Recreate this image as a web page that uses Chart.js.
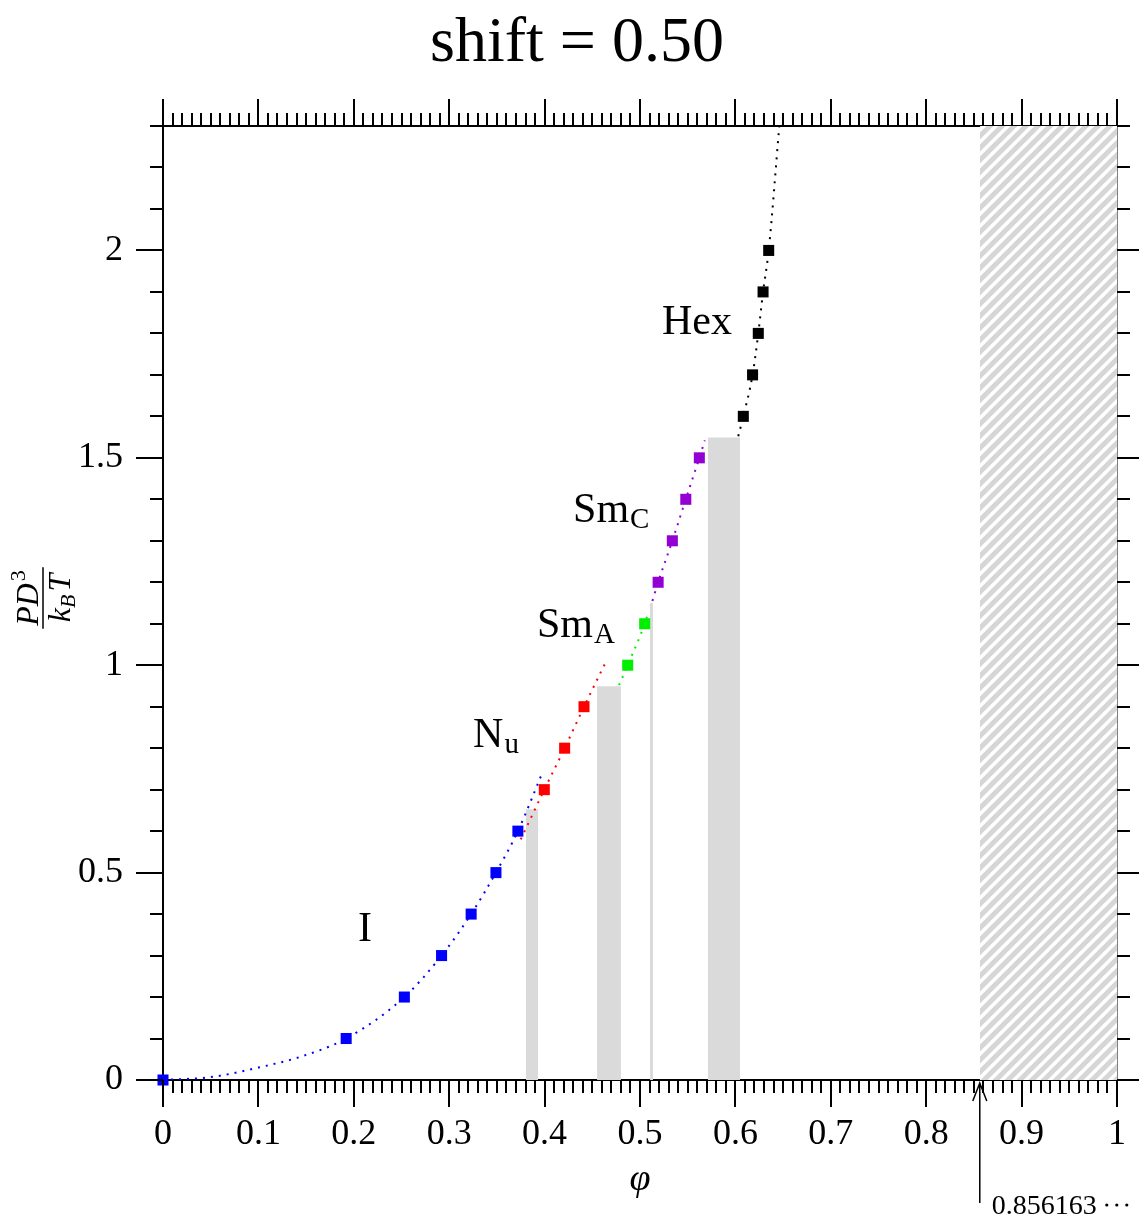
<!DOCTYPE html>
<html lang="en">
<head>
  <meta charset="UTF-8" />
  <title>shift=0.50</title>
  <style>
    html, body { margin: 0; padding: 0; background: #fff; }
    #caixa { width: 1139px; height: 1222px; }
  </style>
  <script src="https://cdn.jsdelivr.net/npm/chart.js"></script>
</head>
<body>
  <div id="caixa"><canvas id="grafico" width="1139" height="1222"></canvas></div>

  <script>
    // simulation points: packing fraction phi and reduced pressure P D^3 / kT
    const isoPhi = [0, 0.192, 0.253, 0.292, 0.323, 0.349, 0.372];
    const isoP   = [0, 0.1, 0.2, 0.3, 0.4, 0.5, 0.6];
    const nemPhi = [0.3997, 0.421, 0.4413];
    const nemP   = [0.7, 0.8, 0.9];
    const smaPhi = [0.4871, 0.5049];
    const smaP   = [1.0, 1.1];
    const smcPhi = [0.519, 0.5339, 0.548, 0.5622];
    const smcP   = [1.2, 1.3, 1.4, 1.5];
    const hexPhi = [0.6083, 0.618, 0.624, 0.629, 0.6349];
    const hexP   = [1.6, 1.7, 1.8, 1.9, 2.0];

    // equation of state curves (dotted)
    const isoFitPhi = [0, 0.05, 0.1, 0.144, 0.192, 0.253, 0.292, 0.323, 0.349, 0.372, 0.397];
    const isoFitP   = [0, 0.007, 0.03, 0.056, 0.1, 0.2, 0.3, 0.4, 0.5, 0.6, 0.737];
    const nemFitPhi = [0.375, 0.3997, 0.421, 0.4413, 0.464];
    const nemFitP   = [0.58, 0.7, 0.8, 0.9, 1.007];
    const smaFitPhi = [0.478, 0.4871, 0.5049, 0.509];
    const smaFitP   = [0.952, 1.0, 1.1, 1.13];
    const smcFitPhi = [0.513, 0.519, 0.5339, 0.548, 0.5622, 0.568];
    const smcFitP   = [1.155, 1.2, 1.3, 1.4, 1.5, 1.542];
    const hexFitPhi = [0.603, 0.6083, 0.618, 0.624, 0.629, 0.6349, 0.646];
    const hexFitP   = [1.552, 1.6, 1.7, 1.8, 1.9, 2.0, 2.3];

    // coexistence gaps: [phi left, phi right, pressure]
    const gapLeft  = [0.3805, 0.455, 0.5105, 0.571];
    const gapRight = [0.3931, 0.480, 0.5136, 0.605];
    const gapTop   = [0.653, 0.949, 1.15, 1.549];

    // close packing limit
    const closePacking = 0.856163;

    const xTicks = [0, 0.1, 0.2, 0.3, 0.4, 0.5, 0.6, 0.7, 0.8, 0.9, 1];
    const yTicks = [0, 0.5, 1, 1.5, 2];

    const faseNomes = ["I", "N", "Sm", "Sm", "Hex"];
    const faseSub   = ["", "u", "A", "C", ""];
    const fasePhi   = [0.2044, 0.325, 0.392, 0.4298, 0.523];
    const faseP     = [0.335, 0.802, 1.067, 1.345, 1.798];

    const serif = '"Liberation Serif", "DejaVu Serif", serif';

    function pares(xs, ys) {
      return xs.map((v, i) => ({ x: v, y: ys[i] }));
    }

    function hachura() {
      const c = document.createElement("canvas");
      c.width = 12; c.height = 12;
      const g = c.getContext("2d");
      g.fillStyle = "#fff";
      g.fillRect(0, 0, 12, 12);
      g.strokeStyle = "#d6d6d6";
      g.lineWidth = 5;
      g.beginPath();
      g.moveTo(-6, 6); g.lineTo(6, -6);
      g.moveTo(0, 12); g.lineTo(12, 0);
      g.moveTo(6, 18); g.lineTo(18, 6);
      g.stroke();
      return g.createPattern(c, "repeat");
    }

    function pontos(xs, ys, cor) {
      return {
        type: "scatter",
        data: pares(xs, ys),
        pointStyle: "rect",
        pointRadius: 7.8,
        backgroundColor: cor,
        borderColor: cor,
        borderWidth: 0,
        clip: false,
        order: 0,
      };
    }

    function curva(xs, ys, cor) {
      return {
        type: "line",
        data: pares(xs, ys),
        showLine: true,
        borderColor: cor,
        borderWidth: 2,
        borderDash: [2, 6],
        cubicInterpolationMode: "monotone",
        pointRadius: 0,
        fill: false,
        order: 1,
      };
    }

    function faixa(x0, x1, top, cor) {
      return {
        type: "line",
        data: [{ x: x0, y: 0 }, { x: x0, y: top }, { x: x1, y: top }, { x: x1, y: 0 }],
        showLine: true,
        borderWidth: 0,
        borderColor: "rgba(0,0,0,0)",
        backgroundColor: cor,
        pointRadius: 0,
        fill: "origin",
        tension: 0,
        order: 2,
      };
    }

    const datasets = [];
    gapLeft.forEach((x0, i) => datasets.push(faixa(x0, gapRight[i], gapTop[i], "#dadada")));
    datasets.push(faixa(closePacking, 1, 2.3, hachura()));
    datasets.push(curva(isoFitPhi, isoFitP, "#0000ff"));
    datasets.push(curva(nemFitPhi, nemFitP, "#ff0000"));
    datasets.push(curva(smaFitPhi, smaFitP, "#00ee00"));
    datasets.push(curva(smcFitPhi, smcFitP, "#9400d3"));
    datasets.push(curva(hexFitPhi, hexFitP, "#000000"));
    datasets.push(pontos(isoPhi, isoP, "#0000ff"));
    datasets.push(pontos(nemPhi, nemP, "#ff0000"));
    datasets.push(pontos(smaPhi, smaP, "#00ee00"));
    datasets.push(pontos(smcPhi, smcP, "#9400d3"));
    datasets.push(pontos(hexPhi, hexP, "#000000"));

    const fmt = (v) => String(+v.toFixed(2));

    // minor/major ticks on the four sides, plus all the text
    const extras = {
      id: "extras",
      afterDraw(chart) {
        const { ctx, chartArea: a, scales } = chart;
        const x = scales.x, y = scales.y;
        ctx.save();
        ctx.strokeStyle = "#000";
        ctx.lineWidth = 2;
        ctx.beginPath();
        for (let i = 0; i <= 100; i++) {
          const px = Math.round(x.getPixelForValue(i / 100));
          const len = i % 10 === 0 ? 27 : 13;
          ctx.moveTo(px, a.bottom); ctx.lineTo(px, a.bottom + len);
          ctx.moveTo(px, a.top); ctx.lineTo(px, a.top - len);
        }
        for (let j = 0; j <= 23; j++) {
          const py = Math.round(y.getPixelForValue(j / 10));
          const len = j % 5 === 0 ? 27 : 13;
          ctx.moveTo(a.left, py); ctx.lineTo(a.left - len, py);
          ctx.moveTo(a.right, py); ctx.lineTo(a.right + len, py);
        }
        ctx.stroke();

        ctx.fillStyle = "#000";
        ctx.textAlign = "center";
        ctx.textBaseline = "alphabetic";

        // title
        ctx.font = "64px " + serif;
        ctx.fillText("shift = 0.50", 577, 61);

        // x title
        ctx.font = "italic 38px " + serif;
        ctx.fillText("\u03c6", 640, 1190);

        // phase labels
        ctx.textAlign = "left";
        faseNomes.forEach((nome, i) => {
          const px = x.getPixelForValue(fasePhi[i]);
          const py = y.getPixelForValue(faseP[i]);
          ctx.font = "42px " + serif;
          ctx.fillText(nome, px, py);
          if (faseSub[i]) {
            const w = ctx.measureText(nome).width;
            ctx.font = "29px " + serif;
            ctx.fillText(faseSub[i], px + w + 1, py + 6);
          }
        });

        // y title: P D^3 / (k_B T), rotated
        ctx.save();
        ctx.translate(43, 598);
        ctx.rotate(-Math.PI / 2);
        ctx.font = "italic 32px " + serif;
        const wPD = ctx.measureText("PD").width;
        ctx.font = "22px " + serif;
        const w3 = ctx.measureText("3").width;
        const numW = wPD + w3 + 2;
        ctx.font = "italic 32px " + serif;
        const wk = ctx.measureText("k").width;
        const wT = ctx.measureText("T").width;
        ctx.font = "italic 22px " + serif;
        const wB = ctx.measureText("B").width;
        const denW = wk + wB + wT + 3;
        const L = Math.max(numW, denW) + 6;
        ctx.lineWidth = 1.5;
        ctx.beginPath();
        ctx.moveTo(-L / 2, 0); ctx.lineTo(L / 2, 0);
        ctx.stroke();
        let u = -numW / 2;
        ctx.font = "italic 32px " + serif;
        ctx.fillText("PD", u, -5);
        ctx.font = "22px " + serif;
        ctx.fillText("3", u + wPD + 2, -18);
        u = -denW / 2;
        ctx.font = "italic 32px " + serif;
        ctx.fillText("k", u, 27);
        ctx.font = "italic 22px " + serif;
        ctx.fillText("B", u + wk, 32);
        ctx.font = "italic 32px " + serif;
        ctx.fillText("T", u + wk + wB + 3, 27);
        ctx.restore();

        // arrow to close packing
        const ax = x.getPixelForValue(closePacking);
        ctx.lineWidth = 1.5;
        ctx.beginPath();
        ctx.moveTo(ax, 1203); ctx.lineTo(ax, a.bottom + 3);
        ctx.moveTo(ax - 7, a.bottom + 21); ctx.lineTo(ax, a.bottom + 3); ctx.lineTo(ax + 7, a.bottom + 21);
        ctx.stroke();
        ctx.font = "28px " + serif;
        ctx.fillText("0.856163", ax + 12, 1214);
        const wn = ctx.measureText("0.856163").width;
        for (let k = 0; k < 3; k++) {
          ctx.beginPath();
          ctx.arc(ax + 12 + wn + 10 + k * 10, 1205, 1.6, 0, 2 * Math.PI);
          ctx.fill();
        }
        ctx.restore();
      },
    };

    const semGrade = { drawOnChartArea: false, drawTicks: false };

    function tamanho(dim, valor) {
      return (s) => {
        s[dim] = valor;
        s.paddingLeft = 0; s.paddingRight = 0;
        s.paddingTop = 0; s.paddingBottom = 0;
      };
    }

    new Chart(document.getElementById("grafico").getContext("2d"), {
      type: "scatter",
      data: { datasets: datasets },
      options: {
        responsive: false,
        animation: false,
        layout: { padding: 0 },
        plugins: { legend: { display: false }, tooltip: { enabled: false }, title: { display: false } },
        scales: {
          x: {
            type: "linear", position: "bottom", min: 0, max: 1, z: 1,
            afterFit: tamanho("height", 142),
            afterBuildTicks: (s) => { s.ticks = xTicks.map((v) => ({ value: v })); },
            grid: semGrade,
            border: { color: "#000", width: 2 },
            ticks: { padding: 33, color: "#000", maxRotation: 0, autoSkip: false,
                     font: { family: serif, size: 36 }, callback: fmt },
          },
          x2: {
            type: "linear", position: "top", min: 0, max: 1, z: 1,
            afterFit: tamanho("height", 126),
            grid: semGrade,
            border: { color: "#000", width: 2 },
            ticks: { display: false },
          },
          y: {
            type: "linear", position: "left", min: 0, max: 2.3, z: 1,
            afterFit: tamanho("width", 163),
            afterBuildTicks: (s) => { s.ticks = yTicks.map((v) => ({ value: v })); },
            grid: semGrade,
            border: { color: "#000", width: 2 },
            ticks: { padding: 40, color: "#000", autoSkip: false,
                     font: { family: serif, size: 36 }, callback: fmt },
          },
          y2: {
            type: "linear", position: "right", min: 0, max: 2.3, z: 1,
            afterFit: tamanho("width", 22),
            grid: semGrade,
            border: { color: "#000", width: 1.5 },
            ticks: { display: false },
          },
        },
      },
      plugins: [extras],
    });
  </script>
</body>
</html>
